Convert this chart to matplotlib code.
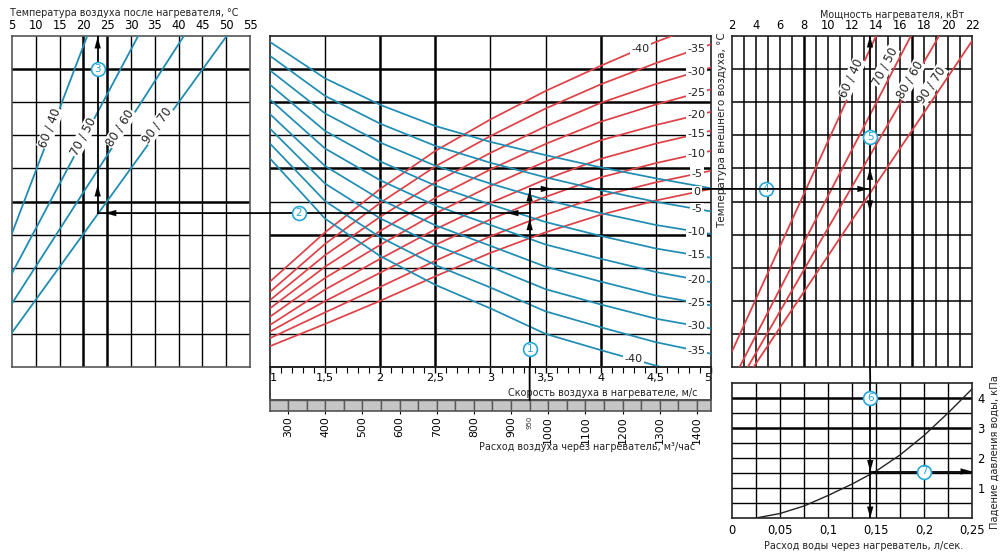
import numpy as np
import matplotlib.pyplot as plt
from matplotlib.patches import ConnectionPatch

plt.rcParams['font.family'] = ['DejaVu Sans']

# ---------------- data ----------------
# middle panel: air speed (m/s) and the curve families (row units, 0 = bottom, 10 = top)
speed = [1, 1.5, 2, 2.5, 3, 3.5, 4, 4.5, 5]

red_temps = [-40, -35, -30, -25, -20, -15, -10, -5, 0]
red_rows = [
    [2.58, 4.07, 5.38, 6.53, 7.48, 8.34, 9.10, 9.82, 10.45],
    [2.27, 3.72, 4.96, 6.06, 6.98, 7.81, 8.54, 9.18, 9.75],
    [2.02, 3.38, 4.54, 5.58, 6.47, 7.27, 7.98, 8.55, 9.05],
    [1.77, 3.03, 4.11, 5.11, 5.97, 6.74, 7.41, 7.93, 8.39],
    [1.52, 2.69, 3.69, 4.64, 5.47, 6.21, 6.85, 7.31, 7.71],
    [1.27, 2.34, 3.27, 4.16, 4.96, 5.67, 6.29, 6.75, 7.14],
    [1.07, 1.99, 2.85, 3.69, 4.46, 5.14, 5.73, 6.16, 6.53],
    [0.87, 1.65, 2.42, 3.21, 3.95, 4.60, 5.16, 5.58, 5.93],
    [0.63, 1.30, 2.00, 2.74, 3.45, 4.07, 4.60, 5.03, 5.38],
]

blue_temps = [0, -5, -10, -15, -20, -25, -30, -35, -40]
blue_rows = [
    [9.82, 8.72, 7.92, 7.28, 6.80, 6.40, 6.03, 5.70, 5.40],
    [9.40, 8.19, 7.35, 6.68, 6.17, 5.73, 5.34, 4.99, 4.70],
    [8.96, 7.66, 6.78, 6.08, 5.54, 5.05, 4.65, 4.29, 4.02],
    [8.53, 7.13, 6.21, 5.48, 4.91, 4.38, 3.96, 3.58, 3.30],
    [8.08, 6.60, 5.64, 4.88, 4.29, 3.70, 3.27, 2.87, 2.56],
    [7.64, 6.07, 5.06, 4.28, 3.66, 3.03, 2.58, 2.16, 1.86],
    [7.20, 5.54, 4.49, 3.68, 3.03, 2.35, 1.89, 1.46, 1.16],
    [6.75, 5.01, 3.92, 3.08, 2.40, 1.68, 1.20, 0.75, 0.40],
    [6.30, 4.48, 3.35, 2.48, 1.77, 1.00, 0.51, 0.04, -0.35],
]

speed_ticks = [1, 1.5, 2, 2.5, 3, 3.5, 4, 4.5, 5]
speed_labels = ['1', '1,5', '2', '2,5', '3', '3,5', '4', '4,5', '5']
flow_ticks = [300, 400, 500, 600, 700, 800, 900, 1000, 1100, 1200, 1300, 1400]
flow_cells = [250, 300, 350, 400, 450, 500, 550, 600, 650, 700, 750, 800, 850,
              900, 950, 1000, 1050, 1100, 1150, 1200, 1250, 1300, 1350, 1400]

# left panel: supply air temperature lines per water regime
modes = ['60 / 40', '70 / 50', '80 / 60', '90 / 70']
after_t0 = [5, 5, 5, 5]
after_r0 = [4.04, 2.83, 1.92, 1.04]
after_t1 = [20.8, 31.5, 41.1, 50.1]
after_r1 = [10, 10, 10, 10]
after_lab_t = [13.0, 19.9, 27.7, 35.5]
after_lab_r = [7.22, 6.95, 7.22, 7.31]
after_ticks = [5, 10, 15, 20, 25, 30, 35, 40, 45, 50, 55]

# right panel: heater power lines per water regime
power_p0 = [2, 2.63, 3.32, 3.8]
power_r0 = [0.47, 0, 0, 0]
power_p1 = [14.0, 16.9, 19.25, 22.0]
power_r1 = [10, 10, 10, 9.85]
power_lab_p = [11.94, 14.72, 16.81, 18.61]
power_lab_r = [8.72, 9.07, 8.67, 8.52]
power_ticks = [2, 4, 6, 8, 10, 12, 14, 16, 18, 20, 22]

# bottom right: water pressure drop
water_flow = [0.025, 0.05, 0.075, 0.1, 0.125, 0.15, 0.175, 0.2, 0.225, 0.25]
pressure_drop = [0.0, 0.15, 0.40, 0.75, 1.13, 1.56, 2.10, 2.75, 3.50, 4.30]
water_ticks = [0, 0.05, 0.1, 0.15, 0.2, 0.25]
water_labels = ['0', '0,05', '0,1', '0,15', '0,2', '0,25']

# worked example
ex_flow = 950
ex_speed = 3.355
ex_out_row = 5.38
ex_after_row = 4.65
ex_after_t = 23
ex_power = 13.5
ex_water = 0.144
ex_dp = 1.55

RED = '#dd4146'
BLUE = '#1f8db3'
TEAL = '#27a6d8'
INK = '#222222'

W, H = 1000, 555
fig = plt.figure(figsize=(10, 5.55), dpi=100)


def box(x0, y0, x1, y1):
    return fig.add_axes([x0 / W, 1 - y1 / H, (x1 - x0) / W, (y1 - y0) / H])


def grid(ax, xs, ys, xthick=(), ythick=(), lw=1.0, lwt=1.8):
    for x in xs:
        t = any(np.isclose(x, v) for v in xthick)
        ax.axvline(x, color='black', lw=lwt if t else lw, zorder=1)
    for y in ys:
        t = any(np.isclose(y, v) for v in ythick)
        ax.axhline(y, color='black', lw=lwt if t else lw, zorder=1)


def frame(ax, color='#444444'):
    for s in ax.spines.values():
        s.set_color(color)
        s.set_linewidth(1.2)


def head(ax, x, y, d):
    off = {'up': (0, -9), 'down': (0, 9), 'left': (9, 0), 'right': (-9, 0)}[d]
    ax.annotate('', xy=(x, y), xytext=off, textcoords='offset points',
                arrowprops=dict(arrowstyle='-|>,head_length=0.8,head_width=0.22',
                                color='black', lw=0.1, shrinkA=0, shrinkB=0),
                zorder=8, annotation_clip=False)


def badge(ax, x, y, n):
    ax.plot(x, y, 'o', ms=10, mfc='white', mec=TEAL, mew=1.2, zorder=9, clip_on=False)
    ax.text(x, y, str(n), color=TEAL, fontsize=7.5, ha='center', va='center', zorder=10)


def link(axa, pa, axb, pb):
    fig.add_artist(ConnectionPatch(pa, pb, coordsA=axa.transData, coordsB=axb.transData,
                                   color='black', lw=1.3, zorder=7))


def line_label(ax, t, p0, p1, at, fs=8.5):
    a = ax.transData.transform(p0)
    b = ax.transData.transform(p1)
    ang = np.degrees(np.arctan2(b[1] - a[1], b[0] - a[0]))
    ax.text(at[0], at[1], t, rotation=ang, rotation_mode='anchor', ha='center', va='center',
            fontsize=fs, color=INK, zorder=5,
            bbox=dict(boxstyle='square,pad=0.05', fc='white', ec='none'))


# ---------------- left panel ----------------
axL = box(12, 36, 250, 367)
axL.set_xlim(5, 55)
axL.set_ylim(0, 10)
grid(axL, after_ticks[1:-1], range(1, 10), xthick=[20, 25], ythick=[9, 5])
for i in range(4):
    axL.plot([after_t0[i], after_t1[i]], [after_r0[i], after_r1[i]], color=BLUE, lw=1.3, zorder=3)
axL.xaxis.tick_top()
axL.set_xticks(after_ticks)
axL.tick_params(axis='x', length=0, pad=3, labelsize=8.3)
axL.set_yticks([])
frame(axL, '#555555')
fig.text(10 / W, 1 - 13 / H, 'Температура воздуха после нагревателя, °C', fontsize=6.9,
         va='center', ha='left', color=INK)

# ---------------- middle panel ----------------
axM = box(270, 36, 711, 367)
axM.set_xlim(1, 5)
axM.set_ylim(0, 10)
grid(axM, speed_ticks[1:-1], range(1, 10), xthick=[2, 2.5, 4], ythick=[9, 8, 6, 4])
for row in red_rows:
    axM.plot(speed, row, color=RED, lw=1.25, zorder=3)
for row in blue_rows:
    axM.plot(speed, row, color=BLUE, lw=1.25, zorder=3)

lab_v = 4.87
lab_box = dict(boxstyle='square,pad=0.12', fc='white', ec='none')
for t, row in zip(red_temps[1:], red_rows[1:]):
    axM.text(lab_v, np.interp(lab_v, speed, row), str(t), fontsize=8, ha='center', va='center',
             color=INK, zorder=5, bbox=lab_box)
for t, row in zip(blue_temps[1:-1], blue_rows[1:-1]):
    axM.text(lab_v, np.interp(lab_v, speed, row), str(t), fontsize=8, ha='center', va='center',
             color=INK, zorder=5, bbox=lab_box)
axM.text(4.36, np.interp(4.36, speed, red_rows[0]), str(red_temps[0]), fontsize=8, ha='center',
         va='center', color=INK, zorder=5, bbox=lab_box)
axM.text(4.3, np.interp(4.3, speed, blue_rows[-1]), str(blue_temps[-1]), fontsize=8, ha='center',
         va='center', color=INK, zorder=5, bbox=lab_box)

axM.set_xticks(speed_ticks)
axM.set_xticklabels(speed_labels)
axM.set_xticks(np.arange(1, 5.001, 0.1), minor=True)
axM.tick_params(axis='x', which='major', length=4, width=1, direction='out', pad=0.3, labelsize=8.2)
axM.tick_params(axis='x', which='minor', length=4, width=0.8, direction='out')
tl = axM.get_xticklabels()
tl[0].set_ha('left')
tl[-1].set_ha('right')
axM.set_yticks([])
frame(axM, INK)

axV = box(270, 367, 711, 400)
axV.set_facecolor('none')
axV.set_xticks([])
axV.set_yticks([])
frame(axV, INK)
axV.text(0.97, 0.22, 'Скорость воздуха в нагревателе, м/с', transform=axV.transAxes,
         ha='right', va='center', fontsize=6.9, color=INK)

axQ = box(270, 400, 711, 411)
axQ.set_xlim(251.6, 1437.7)
axQ.set_ylim(0, 1)
axQ.bar(flow_cells, [1] * len(flow_cells), width=50, align='edge', color='#c6c6c6',
        edgecolor='#5a5a5a', linewidth=1.0)
axQ.set_xticks(flow_ticks)
axQ.set_xticklabels([str(f) for f in flow_ticks], rotation=90)
axQ.tick_params(axis='x', length=2, pad=1.5, labelsize=7.8)
axQ.set_yticks([])
frame(axQ, '#555555')
axQ.text(ex_flow, -0.45, str(ex_flow), rotation=90, fontsize=5, ha='center', va='top', color='#333333')
fig.text(695 / W, 1 - 447 / H, 'Расход воздуха через нагреватель, м³/час', fontsize=6.9,
         ha='right', va='center', color=INK)

# ---------------- right top panel ----------------
axR = box(732, 36, 972, 367)
axR.set_xlim(2, 22)
axR.set_ylim(0, 10)
grid(axR, range(3, 22), range(1, 10), xthick=[8, 17], lw=1.1)
for i in range(4):
    axR.plot([power_p0[i], power_p1[i]], [power_r0[i], power_r1[i]], color=RED, lw=1.3, zorder=3)
axR.xaxis.tick_top()
axR.set_xticks(power_ticks)
axR.tick_params(axis='x', length=0, pad=3, labelsize=8.3)
axR.set_yticks([])
frame(axR, INK)
fig.text(892 / W, 1 - 15 / H, 'Мощность нагревателя, кВт', fontsize=6.9, ha='center',
         va='center', color=INK)
fig.text(722 / W, 1 - 130 / H, 'Температура внешнего воздуха, °C', fontsize=7.5, rotation=90,
         ha='center', va='center', color=INK)

# ---------------- right bottom panel ----------------
axB = box(732, 383, 972, 518)
axB.set_xlim(0, 0.25)
axB.set_ylim(0, 4.5)
grid(axB, np.arange(0.025, 0.25, 0.025), np.arange(0.5, 4.5, 0.5), ythick=[3, 4])
axB.plot(water_flow, pressure_drop, color=INK, lw=1.0, zorder=3)
axB.set_xticks(water_ticks)
axB.set_xticklabels(water_labels)
axB.yaxis.tick_right()
axB.set_yticks([1, 2, 3, 4])
axB.tick_params(length=0, labelsize=8.3, pad=4)
frame(axB, INK)
fig.text(995 / W, 1 - 452 / H, 'Падение давления воды, кПа', fontsize=7.1, rotation=90,
         ha='center', va='center', color=INK)
fig.text(864 / W, 1 - 546 / H, 'Расход воды через нагреватель, л/сек.', fontsize=6.9,
         ha='center', va='center', color=INK)

# line labels (need final transforms)
for i in range(4):
    line_label(axL, modes[i], (after_t0[i], after_r0[i]), (after_t1[i], after_r1[i]),
               (after_lab_t[i], after_lab_r[i]))
    line_label(axR, modes[i], (power_p0[i], power_r0[i]), (power_p1[i], power_r1[i]),
               (power_lab_p[i], power_lab_r[i]))

# ---------------- worked example ----------------
axL.plot([ex_after_t, ex_after_t], [ex_after_row, 10], color='black', lw=1.3, zorder=7)
link(axL, (ex_after_t, ex_after_row), axM, (1, ex_after_row))
axM.plot([1, ex_speed], [ex_after_row, ex_after_row], color='black', lw=1.3, zorder=4)
axM.plot([ex_speed, ex_speed], [0, ex_out_row], color='black', lw=1.3, zorder=4)
link(axM, (ex_speed, 0), axQ, (ex_flow, 1))
axM.plot([ex_speed, 5], [ex_out_row, ex_out_row], color='black', lw=1.3, zorder=4)
link(axM, (5, ex_out_row), axR, (ex_power, ex_out_row))
axR.plot([ex_power, ex_power], [0, 10], color='black', lw=1.3, zorder=7)
link(axR, (ex_power, 0), axB, (ex_water, 4.5))
axB.plot([ex_water, ex_water], [0, 4.5], color='black', lw=1.3, zorder=7)
axB.plot([ex_water, 0.25], [ex_dp, ex_dp], color='black', lw=1.3, zorder=7)

head(axL, ex_after_t, 9.97, 'up')
head(axL, ex_after_t, 5.5, 'up')
head(axL, 24.5, ex_after_row, 'left')
head(axM, 3.15, ex_after_row, 'left')
head(axM, ex_speed, 4.48, 'up')
head(axM, ex_speed, 5.35, 'up')
head(axM, 3.56, ex_out_row, 'right')
head(axR, 13.4, ex_out_row, 'right')
head(axR, ex_power, 6.0, 'up')
head(axR, ex_power, 10.0, 'up')
head(axR, ex_power, 4.69, 'down')
head(axB, ex_water, ex_dp, 'down')
head(axB, ex_water, 0.0, 'down')
head(axB, 0.25, ex_dp, 'right')

badge(axM, ex_speed, 0.54, 1)
badge(axM, 1.263, ex_after_row, 2)
badge(axL, ex_after_t, 9.0, 3)
badge(axR, 4.83, ex_out_row, 4)
badge(axR, ex_power, 6.95, 5)
badge(axB, ex_water, 4.0, 6)
badge(axB, 0.2, ex_dp, 7)

fig.savefig('out.png', dpi=100)
